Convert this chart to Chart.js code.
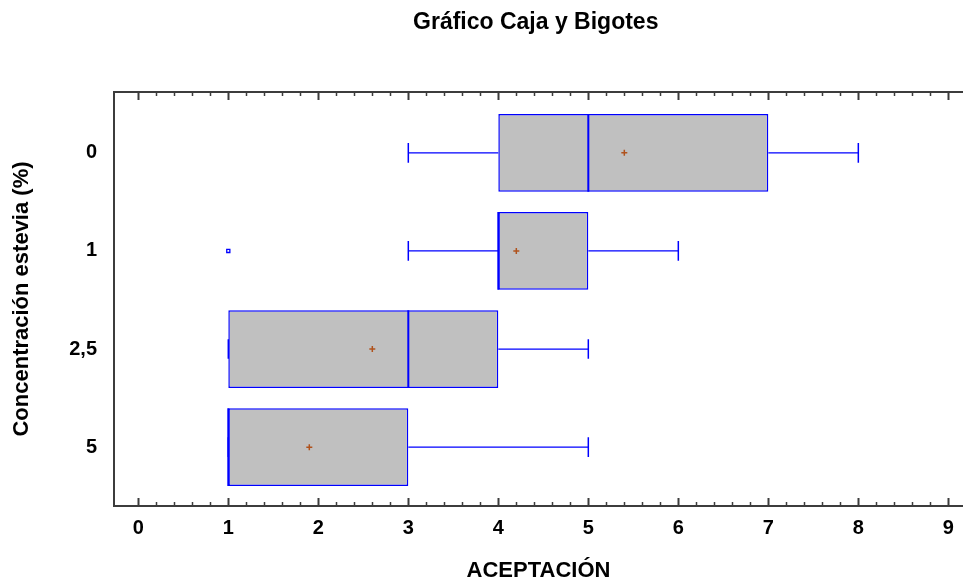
<!DOCTYPE html>
<html>
<head>
<meta charset="utf-8">
<script src="https://cdn.jsdelivr.net/npm/chart.js@4/dist/chart.umd.min.js"></script>
<style>
  html, body { margin: 0; padding: 0; background: #ffffff; }
  #c { display: block; }
</style>
</head>
<body>
<canvas id="c" width="963" height="584"></canvas>
<script>
// Box-and-whisker summary of acceptance scores per stevia concentration
const categories = ['0', '1', '2,5', '5'];
const mins     = [3, 3, 1, 1];
const q1s      = [4, 4, 1, 1];
const medians  = [5, 4, 3, 1];
const q3s      = [7, 5, 4, 3];
const maxs     = [8, 6, 5, 5];
const means    = [5.4, 4.2, 2.6, 1.9];
const outliers = [[], [1], [], []];
const xTickValues = [0, 1, 2, 3, 4, 5, 6, 7, 8, 9];

const FONT = 'Liberation Sans, Arial, Helvetica, sans-serif';
const AXIS_COLOR = '#3c3c3c';
const BOX_HALF = 0.396;
const CAP_HALF = 0.1;

// whisker segments (lower and upper), separated by gaps
const whiskerPts = [];
const capPts = [];
const medianPts = [];
categories.forEach((c, i) => {
  whiskerPts.push({x: mins[i], y: i}, {x: q1s[i], y: i}, {x: null, y: null});
  whiskerPts.push({x: q3s[i], y: i}, {x: maxs[i], y: i}, {x: null, y: null});
  capPts.push({x: mins[i], y: i - CAP_HALF}, {x: mins[i], y: i + CAP_HALF}, {x: null, y: null});
  capPts.push({x: maxs[i], y: i - CAP_HALF}, {x: maxs[i], y: i + CAP_HALF}, {x: null, y: null});
  medianPts.push({x: medians[i], y: i - BOX_HALF}, {x: medians[i], y: i + BOX_HALF}, {x: null, y: null});
});
const meanPts = means.map((m, i) => ({x: m, y: i}));
const outlierPts = [];
outliers.forEach((arr, i) => arr.forEach(v => outlierPts.push({x: v, y: i})));

// let the plot area run to the right edge of the canvas
const fullWidth = {
  id: 'fullWidth',
  afterLayout(chart) {
    const x = chart.scales.x;
    const w = chart.width;
    chart.chartArea.right = w;
    chart.chartArea.width = w - chart.chartArea.left;
    x.right = w;
    x.width = w - x.left;
    x.configure();
  }
};

// frame on top edge plus inward major/minor ticks on top and bottom
const frameTicks = {
  id: 'frameTicks',
  afterDraw(chart) {
    const {ctx, chartArea: a, scales: {x}} = chart;
    ctx.save();
    ctx.strokeStyle = AXIS_COLOR;
    ctx.lineWidth = 2;
    ctx.beginPath();
    ctx.moveTo(a.left - 1, a.top);
    ctx.lineTo(a.right, a.top);
    ctx.stroke();
    for (let k = 0; k <= 45; k++) {
      const v = k / 5;
      const px = Math.round(x.getPixelForValue(v)) + 0.5;
      const major = k % 5 === 0;
      const len = major ? 8 : 4;
      ctx.lineWidth = major ? 2 : 1.5;
      ctx.beginPath();
      ctx.moveTo(px, a.bottom);
      ctx.lineTo(px, a.bottom - len);
      ctx.moveTo(px, a.top);
      ctx.lineTo(px, a.top + len);
      ctx.stroke();
    }
    ctx.restore();
  }
};

new Chart(document.getElementById('c'), {
  type: 'bar',
  data: {
    datasets: [
      {
        type: 'bar',
        data: categories.map((c, i) => ({x: [q1s[i], q3s[i]], y: i})),
        backgroundColor: '#c0c0c0',
        borderColor: '#0000ff',
        borderWidth: 1.5,
        borderSkipped: false,
        barPercentage: 0.792,
        categoryPercentage: 1,
        order: 10
      },
      {
        type: 'scatter',
        data: whiskerPts,
        showLine: true,
        spanGaps: false,
        borderColor: '#0000ff',
        borderWidth: 1.3,
        pointRadius: 0,
        order: 5
      },
      {
        type: 'scatter',
        data: capPts,
        showLine: true,
        spanGaps: false,
        borderColor: '#0000ff',
        borderWidth: 1.5,
        pointRadius: 0,
        order: 4
      },
      {
        type: 'scatter',
        data: medianPts,
        showLine: true,
        spanGaps: false,
        borderColor: '#0000ff',
        borderWidth: 2,
        pointRadius: 0,
        order: 3
      },
      {
        type: 'scatter',
        data: meanPts,
        pointStyle: 'cross',
        pointRadius: 3,
        borderColor: '#b0521c',
        borderWidth: 1.5,
        order: 2
      },
      {
        type: 'scatter',
        data: outlierPts,
        pointStyle: 'rect',
        pointRadius: 2.2,
        backgroundColor: '#ffffff',
        borderColor: '#0000ff',
        borderWidth: 1.3,
        order: 1
      }
    ]
  },
  options: {
    indexAxis: 'y',
    responsive: false,
    animation: false,
    events: [],
    layout: { padding: 0 },
    plugins: {
      legend: { display: false },
      tooltip: { enabled: false },
      title: {
        display: true,
        text: 'Gráfico Caja y Bigotes',
        color: '#000000',
        fullSize: false,
        font: { family: FONT, size: 23, weight: 'bold' },
        padding: { top: 9, bottom: 55.4 }
      }
    },
    scales: {
      x: {
        type: 'linear',
        position: 'bottom',
        offset: false,
        min: -0.27,
        max: 9.163,
        afterBuildTicks: s => { s.ticks = xTickValues.map(v => ({value: v})); },
        afterFit: s => { s.height = 78; s.paddingLeft = 0; s.paddingRight = 0; },
        grid: { display: false, drawTicks: false, offset: false },
        border: { display: true, color: AXIS_COLOR, width: 2 },
        ticks: {
          color: '#000000',
          padding: 10,
          maxRotation: 0,
          autoSkip: false,
          font: { family: FONT, size: 20, weight: 'bold' },
          callback: v => String(v)
        },
        title: {
          display: true,
          text: 'ACEPTACIÓN',
          color: '#000000',
          font: { family: FONT, size: 22, weight: 'bold' },
          padding: { top: 0, bottom: 0 }
        }
      },
      y: {
        type: 'linear',
        position: 'left',
        offset: false,
        reverse: true,
        min: -0.62,
        max: 3.6,
        afterBuildTicks: s => { s.ticks = categories.map((c, i) => ({value: i})); },
        afterFit: s => { s.width = 114; s.paddingTop = 0; s.paddingBottom = 0; },
        grid: { display: false, drawTicks: false, offset: false },
        border: { display: true, color: AXIS_COLOR, width: 2 },
        ticks: {
          color: '#000000',
          padding: 17,
          autoSkip: false,
          font: { family: FONT, size: 20, weight: 'bold' },
          callback: v => categories[v]
        },
        title: {
          display: true,
          text: 'Concentración estevia (%)',
          color: '#000000',
          font: { family: FONT, size: 22, weight: 'bold' },
          padding: { top: 9, bottom: 0 }
        }
      }
    }
  },
  plugins: [fullWidth, frameTicks]
});
</script>
</body>
</html>
